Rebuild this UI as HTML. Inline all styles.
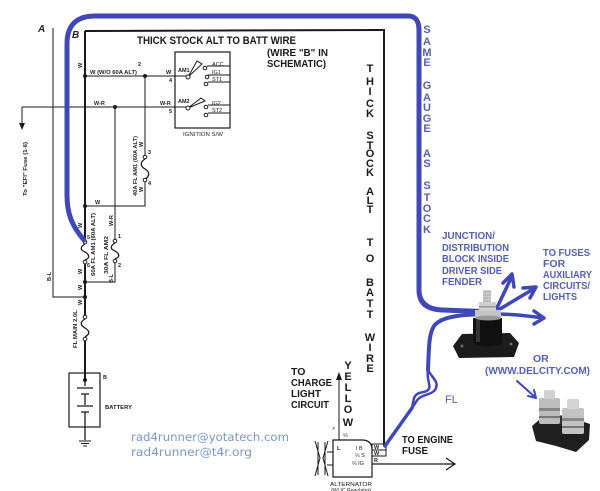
<!DOCTYPE html>
<html><head><meta charset="utf-8"><style>
html,body{margin:0;padding:0;background:#fff;}
svg{display:block;}
text{font-family:"Liberation Sans",Arial,sans-serif;}
.b{font-weight:bold;}
.s{font-size:5.5px;fill:#222;}
.v{font-size:11px;font-weight:bold;fill:#1a1a1a;text-anchor:middle;}
.bl{font-size:11px;font-weight:bold;fill:#5560b0;text-anchor:middle;}
.bt{font-size:10.5px;font-weight:bold;fill:#5560b0;}
</style></head><body>
<svg width="600" height="491" viewBox="0 0 600 491" xmlns="http://www.w3.org/2000/svg">
<rect width="600" height="491" fill="#fff"/>

<!-- ===== Schematic black lines ===== -->
<g stroke="#1a1a1a" fill="none">
  <!-- main thick wire -->
  <path d="M85 31 L384 30 L384 446" stroke-width="2"/>
  <path d="M85 31 L85 240" stroke-width="2"/>
  <path d="M85 264 L85 315" stroke-width="2"/>
  <path d="M85 341 L85 380" stroke-width="2"/>
  <!-- A line -->
  <path d="M53 28 L53 297 L85 297" stroke-width="1"/>
  <!-- W/O 60A ALT line -->
  <path d="M85 76 L188 76" stroke-width="1"/>
  <!-- W-R line -->
  <path d="M22 107 L188 107" stroke-width="1"/>
  <path d="M22 107 L22 125" stroke-width="1"/>
  <!-- 40A fuse branch -->
  <path d="M145 76 L145 155" stroke-width="1"/>
  <path d="M145 182 L145 206 L85 206" stroke-width="1"/>
  <!-- 30A branch -->
  <path d="M115 107 L115 239" stroke-width="1"/>
  <path d="M115 263 L115 282 L85 282" stroke-width="1"/>
  <!-- fuses -->
  <path d="M145 159 c-5 3 -5 7 0 10 c5 3 5 7 0 10" stroke-width="1.3"/>
  <path d="M85 244 c-5 3 -5 6 0 8 c5 3 5 6 0 8" stroke-width="1.3"/>
  <path d="M115 243 c-5 3 -5 6 0 8 c5 3 5 6 0 8" stroke-width="1.3"/>
  <path d="M85 319 c-5 3 -5 6 0 9 c5 3 5 6 0 9" stroke-width="1.3"/>
  <circle cx="145" cy="157" r="1.8" fill="#fff"/>
  <circle cx="145" cy="180" r="1.8" fill="#fff"/>
  <circle cx="85" cy="242" r="1.8" fill="#fff"/>
  <circle cx="85" cy="262" r="1.8" fill="#fff"/>
  <circle cx="115" cy="241" r="1.8" fill="#fff"/>
  <circle cx="115" cy="261" r="1.8" fill="#fff"/>
  <circle cx="85" cy="317" r="1.8" fill="#fff"/>
  <circle cx="85" cy="339" r="1.8" fill="#fff"/>
  <!-- ignition switch -->
  <rect x="175" y="52" width="55" height="76" stroke-width="1.2"/>
  <path d="M188 77 L197 61 L202 64 Z" stroke-width="1"/>
  <path d="M188 108 L201 98 L205 101 Z" stroke-width="1"/>
  <path d="M207 66 L230 66 M208 75 L230 75 M208 82 L230 82 M208 105 L230 105 M208 113 L230 113" stroke-width="1"/>
  <circle cx="188" cy="77" r="2" fill="#fff"/>
  <circle cx="188" cy="108" r="2" fill="#fff"/>
  <circle cx="205" cy="68" r="1.8" fill="#fff"/>
  <circle cx="207" cy="77" r="1.8" fill="#fff"/>
  <circle cx="206" cy="84" r="1.8" fill="#fff"/>
  <circle cx="206" cy="107" r="1.8" fill="#fff"/>
  <circle cx="206" cy="115" r="1.8" fill="#fff"/>
  <!-- battery -->
  <rect x="69" y="373" width="31" height="54" stroke-width="1.2"/>
  <path d="M85 380 L85 386 M77 388 L93 388 M81 394 L89 394 M85 394 L85 405 M77 406 L93 406 M81 412 L89 412 M85 412 L85 440" stroke-width="1.3"/>
  <path d="M79 441 L91 441 M81 443.5 L89 443.5 M83 446 L87 446" stroke-width="1"/>
  <!-- alternator -->
  <path d="M333 440 L362 440 Q372 440 372 450 L372 477 L333 477 Z" stroke-width="1.2"/>
  <path d="M315 441 L320 458 L315 476 M328 441 L323 458 L328 476 M318 442 L318 475 M325 442 L325 475" stroke-width="1"/>
  <path d="M327 452 L333 452 M327 465 L333 465" stroke-width="1"/>
  <rect x="372" y="444" width="14" height="12" stroke-width="1"/>
  <path d="M372 450 L386 450" stroke-width="1"/>
  <path d="M372 464 L455 464 M446 458 L455 464 L446 470" stroke-width="1.2"/>
  <path d="M339 440 L339 377" stroke-width="1"/>
</g>
<path d="M22 130 L19 123 L25 123 Z" fill="#1a1a1a"/>
<path d="M339 372 L336 380 L342 380 Z" fill="#1a1a1a"/>
<g fill="#1a1a1a">
  <circle cx="85" cy="76" r="2"/>
  <circle cx="145" cy="76" r="2"/>
  <circle cx="115" cy="107" r="2"/>
  <circle cx="85" cy="206" r="2"/>
  <circle cx="85" cy="282" r="2"/>
  <circle cx="85" cy="297" r="2"/>
  <circle cx="85" cy="380" r="2"/>
</g>

<!-- ===== small schematic labels ===== -->
<text x="38" y="32" font-size="10" font-style="italic" class="b" fill="#222">A</text>
<text x="72" y="38" font-size="10" font-style="italic" class="b" fill="#222">B</text>
<text x="90" y="74" class="s b" textLength="47" lengthAdjust="spacingAndGlyphs">W (W/O 60A ALT)</text>
<text x="138" y="66" class="s b">2</text>
<text x="166" y="74" class="s b">W</text>
<text x="169" y="82" class="s b">4</text>
<text x="94" y="105" class="s b">W-R</text>
<text x="160" y="105" class="s b">W-R</text>
<text x="169" y="113" class="s b">5</text>
<text x="178" y="72" class="s b">AM1</text>
<text x="178" y="103" class="s b">AM2</text>
<text x="212" y="66" class="s">ACC</text>
<text x="212" y="74" class="s">IG1</text>
<text x="212" y="81" class="s">ST1</text>
<text x="212" y="105" class="s">IG2</text>
<text x="212" y="112" class="s">ST2</text>
<text x="183" y="136" class="s" textLength="40" lengthAdjust="spacingAndGlyphs">IGNITION S/W</text>
<text x="95" y="204" class="s b">W</text>
<text x="148" y="154" class="s b">3</text>
<text x="148" y="185" class="s b">4</text>
<text x="87" y="239" class="s b">5</text>
<text x="87" y="267" class="s b">6</text>
<text x="118" y="238" class="s b">1</text>
<text x="118" y="267" class="s b">2</text>
<text x="103" y="379" class="s b">B</text>
<text x="105" y="409" class="s b" textLength="27" lengthAdjust="spacingAndGlyphs">BATTERY</text>

<g class="s b">
  <text transform="translate(27,196) rotate(-90)" textLength="54" lengthAdjust="spacingAndGlyphs">To "EFI" Fuse (1-6)</text>
  <text transform="translate(82,68) rotate(-90)">W</text>
  <text transform="translate(82,228) rotate(-90)">W</text>
  <text transform="translate(82,274) rotate(-90)">W</text>
  <text transform="translate(82,290) rotate(-90)">W</text>
  <text transform="translate(82,305) rotate(-90)">W</text>
  <text transform="translate(143,147) rotate(-90)">W</text>
  <text transform="translate(143,192) rotate(-90)">W</text>
  <text transform="translate(137,196) rotate(-90)" textLength="60" lengthAdjust="spacingAndGlyphs">40A FL AM1 (60A ALT)</text>
  <text transform="translate(95,276) rotate(-90)" textLength="63" lengthAdjust="spacingAndGlyphs">60A FL AM1 (60A ALT)</text>
  <text transform="translate(108,274) rotate(-90)" textLength="38" lengthAdjust="spacingAndGlyphs">30A FL AM2</text>
  <text transform="translate(113,226) rotate(-90)">W-R</text>
  <text transform="translate(113,283) rotate(-90)">B-L</text>
  <text transform="translate(51,281) rotate(-90)">B-L</text>
  <text transform="translate(77,348) rotate(-90)" textLength="38" lengthAdjust="spacingAndGlyphs">FL MAIN 2.0L</text>
</g>

<!-- alternator labels -->
<text x="337" y="450" class="s b">L</text>
<text x="356" y="450" class="s">I B</text>
<text x="355" y="457" class="s">⅓ S</text>
<text x="352" y="465" class="s">⅔ IG</text>
<text x="374" y="449" class="s b">W</text>
<text x="374" y="455" class="s b">W</text>
<text x="374" y="462" class="s b">R</text>
<text x="343" y="437" class="s">⅔</text>
<text x="332" y="430" class="s">&gt;</text>
<text x="330" y="486" class="s" textLength="42" lengthAdjust="spacingAndGlyphs">ALTERNATOR</text>
<text x="331" y="492" class="s" font-size="4.5" textLength="40" lengthAdjust="spacingAndGlyphs">(W/ IC Regulator)</text>

<!-- ===== heading texts ===== -->
<text x="137" y="44" class="b" font-size="11" fill="#1a1a1a" textLength="159" lengthAdjust="spacingAndGlyphs">THICK STOCK ALT TO BATT WIRE</text>
<text x="267" y="56" class="b" font-size="10" fill="#1a1a1a" textLength="61" lengthAdjust="spacingAndGlyphs">(WIRE "B" IN</text>
<text x="267" y="67" class="b" font-size="10" fill="#1a1a1a" textLength="59" lengthAdjust="spacingAndGlyphs">SCHEMATIC)</text>

<!-- vertical THICK STOCK ALT TO BATT WIRE -->
<g class="v">
  <text x="370" y="72">T</text><text x="370" y="85">H</text><text x="370" y="95">I</text><text x="370" y="107">C</text><text x="370" y="117">K</text>
  <text x="370" y="139">S</text><text x="370" y="149">T</text><text x="370" y="157">O</text><text x="370" y="167">C</text><text x="370" y="176">K</text>
  <text x="370" y="195">A</text><text x="370" y="204">L</text><text x="370" y="213">T</text>
  <text x="370" y="246">T</text><text x="370" y="262">O</text>
  <text x="370" y="286">B</text><text x="370" y="296">A</text><text x="370" y="307">T</text><text x="370" y="318">T</text>
  <text x="370" y="341">W</text><text x="370" y="351">I</text><text x="370" y="362">R</text><text x="370" y="372">E</text>
</g>

<!-- YELLOW -->
<g class="v">
  <text x="348" y="369">Y</text><text x="348" y="380">E</text><text x="348" y="391">L</text><text x="348" y="402">L</text><text x="348" y="413">O</text><text x="348" y="426">W</text>
</g>

<!-- TO CHARGE LIGHT CIRCUIT -->
<g class="b" font-size="10.5" fill="#1a1a1a">
  <text x="291" y="375">TO</text>
  <text x="291" y="386" textLength="41" lengthAdjust="spacingAndGlyphs">CHARGE</text>
  <text x="291" y="397" textLength="30" lengthAdjust="spacingAndGlyphs">LIGHT</text>
  <text x="291" y="408" textLength="38" lengthAdjust="spacingAndGlyphs">CIRCUIT</text>
  <text x="402" y="443" textLength="51" lengthAdjust="spacingAndGlyphs">TO ENGINE</text>
  <text x="402" y="454" textLength="26" lengthAdjust="spacingAndGlyphs">FUSE</text>
</g>

<!-- emails -->
<g font-family="'DejaVu Sans',Verdana,sans-serif" font-size="11.5" fill="#7b98c8">
  <text x="131" y="441" style="font-family:'DejaVu Sans',Verdana,sans-serif" textLength="158" lengthAdjust="spacingAndGlyphs">rad4runner@yotatech.com</text>
  <text x="131" y="456" style="font-family:'DejaVu Sans',Verdana,sans-serif" textLength="121" lengthAdjust="spacingAndGlyphs">rad4runner@t4r.org</text>
</g>

<!-- ===== blue wires ===== -->
<g stroke="#3f48b4" fill="none" stroke-linecap="round" stroke-linejoin="round">
  <path d="M84 240 C72 226 67 214 67 195 L67 44 Q67 16 95 16 L408 16 Q419 16 419 30 L419 290 Q419 309 442 310 L497 312" stroke-width="5"/>
  <path d="M497 314 C468 314 442 315 434 326 C429 334 429 345 428 370" stroke-width="4"/>
  <path d="M428 370 C432 378 440 382 435 390 C430 396 420 394 416 402 L412 408" stroke-width="2.5"/>
  <path d="M428 370 C426 380 432 386 428 390 C424 394 418 390 414 398 L412 408" stroke-width="2.5"/>
  <path d="M412 408 L385 446" stroke-width="3.5"/>
  <!-- arrows -->
  <path d="M495 312 L512 276" stroke-width="3.5"/>
  <path d="M503 283 L512 274 L514 287" stroke-width="3.5"/>
  <path d="M495 312 L535 288" stroke-width="3.5"/>
  <path d="M523 288 L536 287 L530 298" stroke-width="3.5"/>
  <path d="M495 314 C515 314 530 316 543 318" stroke-width="3.5"/>
  <path d="M534 311 L544 318 L534 324" stroke-width="3.5"/>
  <path d="M517 381 L535 397" stroke-width="2"/>
  <path d="M528 396 L536 398 L534 390" stroke-width="2"/>
</g>

<!-- SAME GAUGE AS STOCK -->
<g class="bl">
  <text x="427" y="33">S</text><text x="427" y="45">A</text><text x="427" y="56">M</text><text x="427" y="66">E</text>
  <text x="427" y="89">G</text><text x="427" y="101">A</text><text x="427" y="111">U</text><text x="427" y="122">G</text><text x="427" y="132">E</text>
  <text x="427" y="157">A</text><text x="427" y="167">S</text>
  <text x="427" y="189">S</text><text x="427" y="201">T</text><text x="427" y="212">O</text><text x="427" y="222">C</text><text x="427" y="233">K</text>
</g>

<!-- junction texts -->
<g class="bt">
  <text x="442" y="239" textLength="53" lengthAdjust="spacingAndGlyphs">JUNCTION/</text>
  <text x="442" y="251" textLength="67" lengthAdjust="spacingAndGlyphs">DISTRIBUTION</text>
  <text x="442" y="262" textLength="67" lengthAdjust="spacingAndGlyphs">BLOCK INSIDE</text>
  <text x="442" y="274" textLength="60" lengthAdjust="spacingAndGlyphs">DRIVER SIDE</text>
  <text x="442" y="285" textLength="40" lengthAdjust="spacingAndGlyphs">FENDER</text>
  <text x="543" y="256" textLength="47" lengthAdjust="spacingAndGlyphs">TO FUSES</text>
  <text x="543" y="267">FOR</text>
  <text x="543" y="278" textLength="49" lengthAdjust="spacingAndGlyphs">AUXILIARY</text>
  <text x="543" y="289" textLength="47" lengthAdjust="spacingAndGlyphs">CIRCUITS/</text>
  <text x="543" y="300" textLength="34" lengthAdjust="spacingAndGlyphs">LIGHTS</text>
  <text x="533" y="362">OR</text>
  <text x="485" y="374" textLength="105" lengthAdjust="spacingAndGlyphs">(WWW.DELCITY.COM)</text>
  <text x="445" y="403" font-weight="normal" font-size="11">FL</text>
</g>

<!-- ===== junction block picture ===== -->
<polygon points="462,334 510,333 519,343 514,357 459,358 453,346" fill="#1b1b1b"/>
<circle cx="462" cy="346" r="1.5" fill="#666"/>
<circle cx="511" cy="344" r="1.5" fill="#666"/>
<path d="M473 318 L502 318 L502 343 Q488 350 473 343 Z" fill="#111"/>
<rect x="476" y="320" width="4" height="22" fill="#333"/>
<rect x="475" y="310" width="26" height="8" fill="#c4c4c4"/>
<ellipse cx="488" cy="318" rx="13" ry="2.5" fill="#9a9a9a"/>
<rect x="479" y="302" width="17" height="9" fill="#d0d0d0"/>
<rect x="479" y="306" width="17" height="1.5" fill="#999"/>
<rect x="483" y="290" width="8" height="13" fill="#cfcfcf"/>
<path d="M483 292 L491 292 M483 295 L491 295 M483 298 L491 298 M483 301 L491 301" stroke="#999" stroke-width="0.8"/>

<!-- ===== dual stud block picture ===== -->
<polygon points="532,426 546,414 566,416 590,424 589,440 576,452 556,446 536,441" fill="#1f1f1f"/>
<polygon points="546,414 566,416 572,425 552,423" fill="#333"/>
<rect x="539" y="398" width="21" height="26" rx="2" fill="#bdbdbd"/>
<rect x="539" y="408" width="21" height="3" fill="#888"/>
<rect x="539" y="416" width="21" height="2" fill="#777"/>
<rect x="544" y="390" width="11" height="9" rx="2" fill="#d2d2d2"/>
<rect x="562" y="408" width="22" height="26" rx="2" fill="#c3c3c3"/>
<rect x="562" y="418" width="22" height="3" fill="#888"/>
<rect x="562" y="426" width="22" height="2" fill="#777"/>
<rect x="567" y="399" width="12" height="10" rx="2" fill="#d4d4d4"/>
</svg>
</body></html>
